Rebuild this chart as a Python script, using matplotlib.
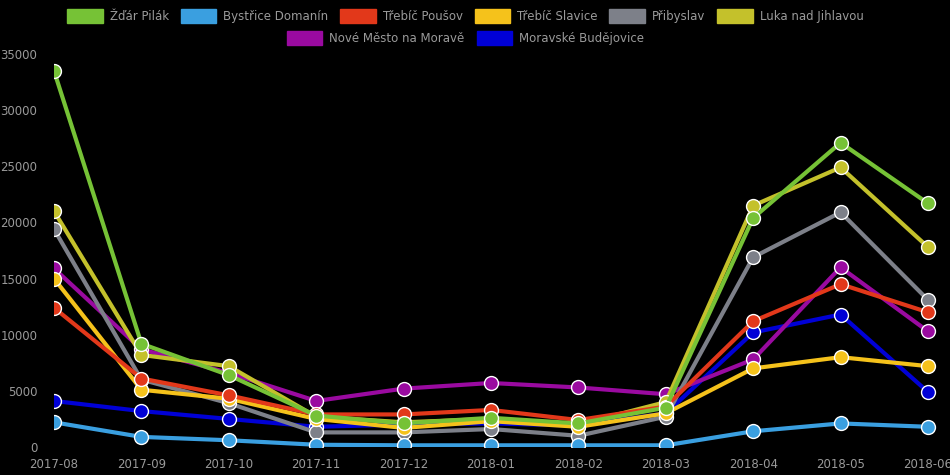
import matplotlib.pyplot as plt
from matplotlib.patches import Patch

months = ["2017-08", "2017-09", "2017-10", "2017-11", "2017-12", "2018-01",
          "2018-02", "2018-03", "2018-04", "2018-05", "2018-06"]

zdar_pilak = [33500, 9200, 6400, 2800, 2100, 2600, 2100, 3500, 20400, 27100, 21700]
bystrice_domanin = [2200, 900, 600, 200, 150, 150, 150, 150, 1400, 2100, 1800]
trebic_pousov = [12400, 6100, 4600, 2900, 2900, 3300, 2400, 3600, 11200, 14500, 12000]
trebic_slavice = [15000, 5100, 4300, 2500, 1700, 2300, 1800, 3000, 7000, 8000, 7200]
pribyslav = [19400, 6000, 3900, 1300, 1300, 1600, 1000, 2700, 16900, 20900, 13100]
luka = [21000, 8200, 7200, 2700, 2200, 2500, 2000, 4000, 21500, 24900, 17800]
nove_mesto = [15900, 8700, 6600, 4100, 5200, 5700, 5300, 4700, 7800, 16000, 10300]
moravske = [4100, 3200, 2500, 1800, 2000, 2100, 1900, 3000, 10200, 11800, 4900]

names = ["Žďár Pilák", "Bystřice Domanín", "Třebíč Poušov", "Třebíč Slavice",
         "Přibyslav", "Luka nad Jihlavou", "Nové Město na Moravě", "Moravské Budějovice"]
series = [zdar_pilak, bystrice_domanin, trebic_pousov, trebic_slavice,
          pribyslav, luka, nove_mesto, moravske]
colors = ["#76c236", "#3a9fe0", "#e2381a", "#f5c21b",
          "#7d8089", "#c4c12b", "#9a0aa0", "#0000d6"]
text_col = "#9a9a9a"

fig = plt.figure(figsize=(9.5, 4.75), dpi=100, facecolor="black")
# plot area runs to the right edge of the figure; last month sits at x=928px
ax = fig.add_axes([54 / 950, 1 - 447 / 475, (950 - 54) / 950, (447 - 54) / 475])
ax.set_facecolor("black")

x = list(range(len(months)))
for i, (name, vals, c) in enumerate(zip(names, series, colors)):
    ax.plot(x, vals, color=c, lw=3, marker="o", ms=10, mfc=c, mec="white",
            mew=1, zorder=20 - i, label=name)

ax.set_xlim(0, (len(months) - 1) * (950 - 54) / (928 - 54))
ax.set_ylim(0, 35000)
ax.set_yticks(range(0, 35001, 5000))
ax.set_xticks(x)
ax.set_xticklabels(months)
for s in ax.spines.values():
    s.set_visible(False)
ax.tick_params(colors=text_col, labelsize=8.5, length=0, pad=12)
ax.tick_params(axis="x", pad=8)

handles = [Patch(facecolor=c, edgecolor=c) for c in colors]
leg1 = fig.legend(handles[:6], names[:6], loc="center", bbox_to_anchor=(0.49, 1 - 16 / 475),
                  ncol=6, frameon=False, fontsize=8.5, labelcolor=text_col,
                  handlelength=3.0, handleheight=1.4, columnspacing=1.0, handletextpad=0.6)
leg2 = fig.legend(handles[6:], names[6:], loc="center", bbox_to_anchor=(0.49, 1 - 38 / 475),
                  ncol=2, frameon=False, fontsize=8.5, labelcolor=text_col,
                  handlelength=3.0, handleheight=1.4, columnspacing=1.0, handletextpad=0.6)

fig.savefig("out.png", dpi=100, facecolor="black")
